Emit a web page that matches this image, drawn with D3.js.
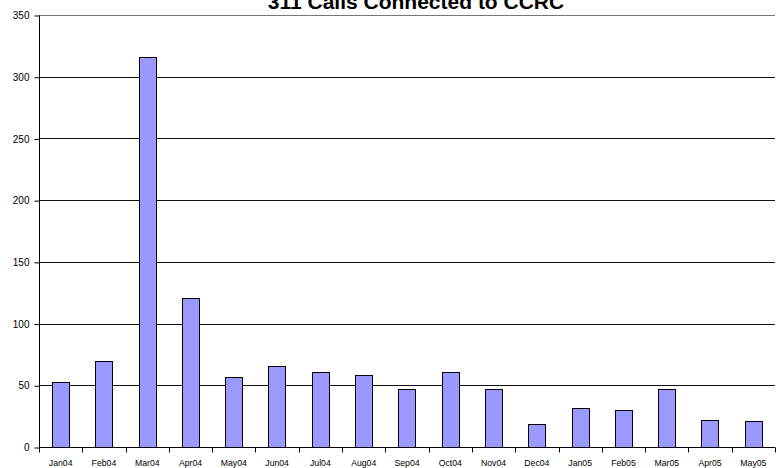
<!DOCTYPE html>
<html>
<head>
<meta charset="utf-8">
<script src="https://cdn.jsdelivr.net/npm/d3@7"></script>
<style>
  body { margin: 0; background: #fff; }
  text { font-family: "Liberation Sans", Arial, sans-serif; }
</style>
</head>
<body>
<svg id="chart" width="778" height="468"></svg>
<script>
const months = ["Jan04", "Feb04", "Mar04", "Apr04", "May04", "Jun04", "Jul04", "Aug04",
  "Sep04", "Oct04", "Nov04", "Dec04", "Jan05", "Feb05", "Mar05", "Apr05", "May05"];
const calls = [53, 70, 316, 121, 57, 66, 61, 58, 47, 61, 47, 19, 32, 30, 47, 22, 21];
const yTicks = [0, 50, 100, 150, 200, 250, 300, 350];
const title = "311 Calls Connected to CCRC";

const margin = { left: 39, right: 3, top: 15, bottom: 21 };
const width = 778, height = 468;

const svg = d3.select("#chart");

const x = d3.scaleBand()
  .domain(months)
  .range([margin.left, width - margin.right])
  .paddingInner(0.6)
  .paddingOuter(0.3);

const y = d3.scaleLinear()
  .domain([0, 350])
  .range([height - margin.bottom, margin.top]);

// gridlines
svg.append("g")
  .selectAll("line")
  .data(yTicks.slice(1))
  .enter()
  .append("line")
  .attr("x1", margin.left)
  .attr("x2", width - margin.right)
  .attr("y1", d => Math.round(y(d)) + 0.5)
  .attr("y2", d => Math.round(y(d)) + 0.5)
  .attr("stroke", d => d === 350 ? "#777" : "#111")
  .attr("stroke-width", 1);

// bars
svg.append("g")
  .selectAll("rect")
  .data(months)
  .enter()
  .append("rect")
  .attr("x", d => Math.round(x(d)) + 0.5)
  .attr("y", (d, i) => Math.round(y(calls[i])) + 0.5)
  .attr("width", Math.round(x.bandwidth()))
  .attr("height", (d, i) => Math.round(y(0)) - Math.round(y(calls[i])))
  .attr("fill", "#9999ff")
  .attr("stroke", "#000")
  .attr("stroke-width", 1);

// y axis
const yAxis = d3.axisLeft(y)
  .tickValues(yTicks)
  .tickSize(5)
  .tickPadding(5);

const yg = svg.append("g")
  .attr("transform", `translate(${margin.left + 0.5},0.5)`)
  .call(yAxis);
yg.select(".domain").attr("stroke", "#000").attr("d", `M0,${y(350)}V${y(0)}`);
yg.selectAll(".tick line").attr("stroke", "#000");
yg.selectAll(".tick text")
  .attr("font-size", "10px")
  .attr("font-family", "Liberation Sans, Arial, sans-serif")
  .attr("fill", "#000");

// x axis line
const y0 = Math.round(y(0)) + 0.5;
svg.append("line")
  .attr("x1", margin.left)
  .attr("x2", width - margin.right)
  .attr("y1", y0)
  .attr("y2", y0)
  .attr("stroke", "#000");

// x ticks on category boundaries
const step = x.step();
const offset = (step - x.bandwidth()) / 2;
const bounds = months.map(m => x(m) - offset).concat([width - margin.right]);
svg.append("g")
  .selectAll("line")
  .data(bounds)
  .enter()
  .append("line")
  .attr("x1", d => Math.round(d) + 0.5)
  .attr("x2", d => Math.round(d) + 0.5)
  .attr("y1", y0)
  .attr("y2", y0 + 5)
  .attr("stroke", "#000");

// x labels
svg.append("g")
  .selectAll("text")
  .data(months)
  .enter()
  .append("text")
  .attr("x", d => x(d) + x.bandwidth() / 2)
  .attr("y", 466)
  .attr("text-anchor", "middle")
  .attr("font-size", "8.7px")
  .text(d => d);

// title (cut off at the top, as in the original)
svg.append("text")
  .attr("x", 416)
  .attr("y", 9)
  .attr("text-anchor", "middle")
  .attr("font-size", "21px")
  .attr("font-weight", "bold")
  .text(title);
</script>
</body>
</html>
